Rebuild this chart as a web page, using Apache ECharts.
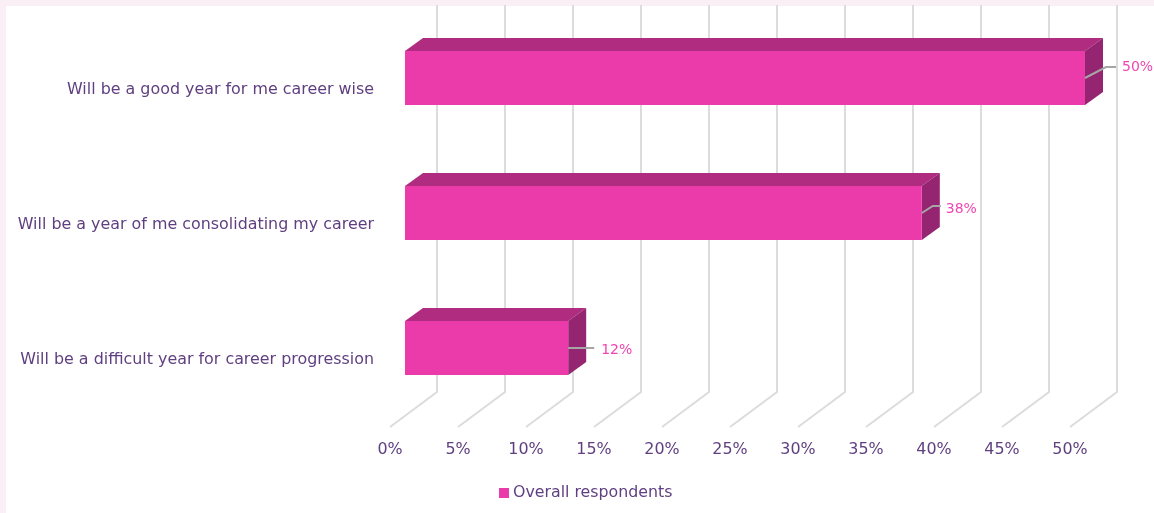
<!DOCTYPE html>
<html><head><meta charset="utf-8">
<style>html,body{margin:0;padding:0;background:#fff}#c{width:1154px;height:513px}</style>
<script src="https://cdn.jsdelivr.net/npm/echarts@6/dist/echarts.min.js"></script>
</head><body><div id="c"></div>
<script>
const categories = ["Will be a good year for me career wise","Will be a year of me consolidating my career","Will be a difficult year for career progression"];
const seriesName = "Overall respondents";
const values = [50,38,12];
const ticks = [0,5,10,15,20,25,30,35,40,45,50];

const FONT = '"DejaVu Sans", sans-serif';
const TEXT = '#5F3F80', PINK = '#EB3BAB', TOPC = '#B02C80', SIDE = '#952471', GRID = '#DCDCDC';
const depth = {wallX:47, wallY:35, barX:15, barY:11.5, boxX:18, boxY:13, barH:54, wallRise:17};
// leader line shape per label: [start dy, elbow dx, elbow dy, end dx, text dx, text dy]
const leaders = [[0,21,-11,31,37,-11],[0,11,-7,19,24,-4],[0,14,0,26,33,2]];

const chart = echarts.init(document.getElementById('c'));
chart.setOption({
  animation:false,
  backgroundColor:'#fff',
  graphic:[
    {type:'rect',z:-1,shape:{x:0,y:0,width:1154,height:6},style:{fill:'#FAEFF5'}},
    {type:'rect',z:-1,shape:{x:0,y:0,width:6,height:513},style:{fill:'#FAEFF5'}}
  ],
  grid:{left:390,width:680,top:22,height:405},
  legend:{left:494,top:480,icon:'rect',itemWidth:10,itemHeight:10,itemGap:6,
    data:[seriesName],textStyle:{color:TEXT,fontSize:15.8,fontFamily:FONT,padding:[0,0,0,-1]}},
  xAxis:{type:'value',min:0,max:50,interval:5,splitLine:{show:false},axisLine:{show:false},axisTick:{show:false},
    axisLabel:{formatter:'{value}%',color:TEXT,fontSize:15.9,fontFamily:FONT,margin:15}},
  yAxis:{type:'category',inverse:true,data:categories,axisLine:{show:false},axisTick:{show:false},
    axisLabel:{color:TEXT,fontSize:15.9,fontFamily:FONT,margin:16}},
  series:[
    {type:'custom',silent:true,z:1,clip:false,legendHoverLink:false,
     data:ticks.map(t=>[t]),encode:{x:0},
     renderItem(p,api){
       const b=api.coord([api.value(0),2]);
       const x=b[0], yb=p.coordSys.y+p.coordSys.height, yt=p.coordSys.y;
       return {type:'polyline',shape:{points:[[x,yb],[x+depth.wallX,yb-depth.wallY],[x+depth.wallX,yt-depth.wallRise]]},
         style:{stroke:GRID,lineWidth:2,fill:null}};
     }},
    {type:'custom',name:seriesName,z:2,clip:false,
     itemStyle:{color:PINK},
     data:values.map((v,i)=>[v,i]),encode:{x:0,y:1},
     renderItem(p,api){
       const v=api.value(0), i=api.value(1);
       const c=api.coord([v,i]), o=api.coord([0,i]);
       const x0=o[0]+depth.barX, x1=c[0]+depth.barX;
       const ym=c[1]-depth.barY, y0=ym-depth.barH/2, y1=ym+depth.barH/2;
       const dx=depth.boxX, dy=depth.boxY, L=leaders[i];
       const lx=x1, ly=ym+L[0];
       return {type:'group',children:[
         {type:'polygon',shape:{points:[[x0,y0],[x1,y0],[x1+dx,y0-dy],[x0+dx,y0-dy]]},style:{fill:TOPC}},
         {type:'polygon',shape:{points:[[x1,y0],[x1+dx,y0-dy],[x1+dx,y1-dy],[x1,y1]]},style:{fill:SIDE}},
         {type:'rect',shape:{x:x0,y:y0,width:x1-x0,height:y1-y0},style:{fill:PINK}},
         {type:'polyline',shape:{points:[[lx,ly],[lx+L[1],ly+L[2]],[lx+L[3],ly+L[2]]]},style:{stroke:'#A6A6A6',lineWidth:2,fill:null}},
         {type:'text',style:{x:lx+L[4],y:ly+L[5],text:v+'%',fill:'#F046B2',fontSize:14,fontFamily:FONT,align:'left',verticalAlign:'middle'}}
       ]};
     }}
  ]
});
</script></body></html>
